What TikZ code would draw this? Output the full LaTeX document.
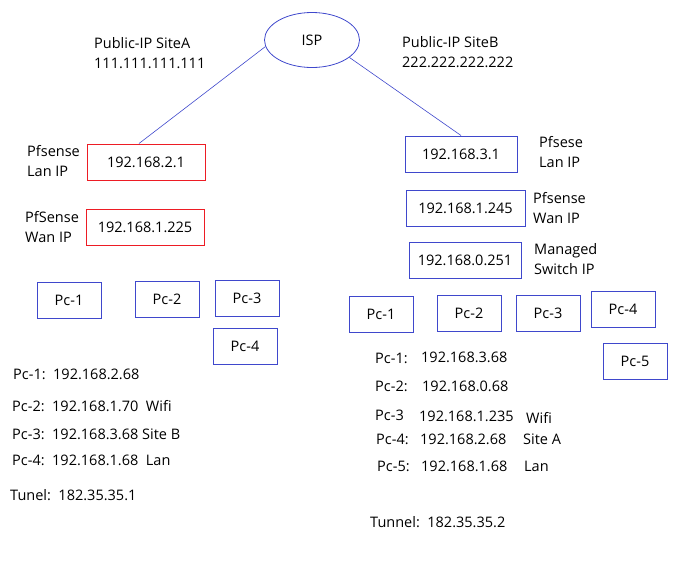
\documentclass[tikz,border=0pt]{standalone}
\usepackage{fontspec}
\setmainfont{Open Sans}
\usetikzlibrary{shapes.geometric}

\definecolor{boxblue}{RGB}{63,72,204}
\definecolor{boxred}{RGB}{237,28,36}

\begin{document}
\begin{tikzpicture}[
		x=1pt, y=-1pt,
		every node/.style={font=\fontsize{14.5}{20}\selectfont, inner sep=0pt},
		ipbox/.style={draw=boxblue, line width=1pt, minimum height=36pt, inner sep=2pt},
		redbox/.style={ipbox, draw=boxred},
		pcbox/.style={draw=boxblue, line width=1pt, minimum width=64pt, minimum height=36pt},
		txt/.style={anchor=west, align=left},
		link/.style={draw=boxblue, line width=0.6pt}
		]
		
		% frame of the picture
		\useasboundingbox (0,0) rectangle (696,563);
		
		% ISP cloud
		\node[ellipse, draw=boxblue, line width=0.8pt, minimum width=95pt, minimum height=55pt] (isp) at (312,40) {ISP};
		
		% Public addresses
		\node[txt] (pubA) at (94,53) {Public-IP SiteA\\111.111.111.111};
		\node[txt] (pubB) at (402,52) {Public-IP SiteB\\222.222.222.222};
		
		% Site A firewall
		\node[redbox, minimum width=118pt] (lanA) at (146,162) {192.168.2.1};
		\node[redbox, minimum width=118pt] (wanA) at (145,227) {192.168.1.225};
		\node[txt] (lanAlbl) at (27,161) {Pfsense\\Lan IP};
		\node[txt] (wanAlbl) at (25,227) {PfSense\\Wan IP};
		
		% Site B firewall and switch
		\node[ipbox, minimum width=112pt] (lanB) at (461,154) {192.168.3.1};
		\node[ipbox, minimum width=119pt] (wanB) at (465.5,208) {192.168.1.245};
		\node[ipbox, minimum width=112pt] (swB) at (465,260) {192.168.0.251};
		\node[txt] (lanBlbl) at (539,152) {Pfsese\\Lan IP};
		\node[txt] (wanBlbl) at (533,208) {Pfsense\\Wan IP};
		\node[txt] (swBlbl) at (534,259) {Managed\\Switch IP};
		
		% Uplinks
		\draw[link] (isp.188) -- ([xshift=-7pt]lanA.north);
		\draw[link] (isp.-25) -- (lanB.north);
		
		% PCs at site A
		\node[pcbox] (pcA1) at (69,300) {Pc-1};
		\node[pcbox] (pcA2) at (167,299) {Pc-2};
		\node[pcbox] (pcA3) at (247,298) {Pc-3};
		\node[pcbox] (pcA4) at (245,346) {Pc-4};
		
		% PCs at site B
		\node[pcbox] (pcB1) at (381,314) {Pc-1};
		\node[pcbox] (pcB2) at (469,313) {Pc-2};
		\node[pcbox] (pcB3) at (548,313) {Pc-3};
		\node[pcbox] (pcB4) at (623,309) {Pc-4};
		\node[pcbox] (pcB5) at (635,361) {Pc-5};
		
		% Address list site A
		\node[txt] (ipA1) at (13,374) {Pc-1:\ \ 192.168.2.68};
		\node[txt] (ipA2) at (12,406) {Pc-2:\ \ 192.168.1.70\ \ Wifi};
		\node[txt] (ipA3) at (12,434) {Pc-3:\ \ 192.168.3.68 Site B};
		\node[txt] (ipA4) at (12,460) {Pc-4:\ \ 192.168.1.68\ \ Lan};
		\node[txt] (tunA) at (10,495) {Tunel:\ \ 182.35.35.1};
		
		% Address list site B
		\node[txt] (ipB1a) at (375,358) {Pc-1:};
		\node[txt] (ipB1b) at (421,357) {192.168.3.68};
		\node[txt] (ipB2a) at (375,386) {Pc-2:};
		\node[txt] (ipB2b) at (422,386) {192.168.0.68};
		\node[txt] (ipB3a) at (375,415) {Pc-3};
		\node[txt] (ipB3b) at (419,416) {192.168.1.235};
		\node[txt] (ipB3c) at (526,418) {Wifi};
		\node[txt] (ipB4a) at (376,439) {Pc-4:};
		\node[txt] (ipB4b) at (420,439) {192.168.2.68};
		\node[txt] (ipB4c) at (523,439) {Site A};
		\node[txt] (ipB5a) at (377,466) {Pc-5:};
		\node[txt] (ipB5b) at (421,466) {192.168.1.68};
		\node[txt] (ipB5c) at (524,466) {Lan};
		\node[txt] (tunB) at (370,522) {Tunnel:\ \ 182.35.35.2};
		
	\end{tikzpicture}
\end{document}
